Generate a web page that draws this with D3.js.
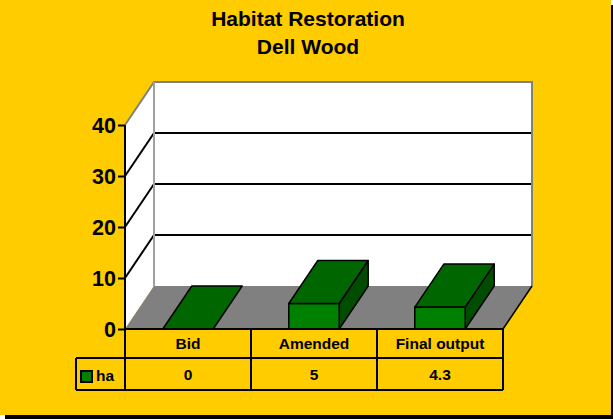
<!DOCTYPE html>
<html lang="en">
<meta charset="utf-8">
<style>
  body { margin: 0; background: #fff; }
  text { font-family: "Liberation Sans", Arial, sans-serif; font-weight: bold; fill: #000; }
</style>
<body>
<div id="my_dataviz"></div>

<script src="https://d3js.org/d3.v7.min.js"></script>
<script>

// data
var titleLines = ["Habitat Restoration", "Dell Wood"];
var categories = ["Bid", "Amended", "Final output"];
var values = [0, 5, 4.3];
var valueLabels = ["0", "5", "4.3"];
var seriesName = "ha";
var yTicks = [0, 10, 20, 30, 40];

var W = 613, H = 419;

var svg = d3.select("#my_dataviz")
  .append("svg")
    .attr("width", W)
    .attr("height", H);

// black drop shadow + yellow panel
svg.append("rect").attr("x", 5).attr("y", 5).attr("width", W - 5).attr("height", H - 5).attr("fill", "#000");
svg.append("rect").attr("x", 0).attr("y", 0).attr("width", 611).attr("height", 415).attr("fill", "#FFCC00");

// title
svg.selectAll(".title")
  .data(titleLines)
  .enter().append("text")
    .attr("x", 308)
    .attr("y", function(d, i) { return 26 + i * 28; })
    .attr("text-anchor", "middle")
    .style("font-size", "21px")
    .text(function(d) { return d; });

// scales
var x = d3.scaleBand().domain(categories).range([125, 503]);
var y = d3.scaleLinear().domain([0, 40]).range([329, 125]);
var dx = 29, dy = -43;   // depth offset
var barW = x.bandwidth() / 2.5;

var x0 = x.range()[0], x1 = x.range()[1];
var yTop = y(40), yBase = y(0);

function poly(pts) { return pts.map(function(p) { return p.join(","); }).join(" "); }

// back wall
svg.append("polygon")
  .attr("points", poly([[x0 + dx, yTop + dy], [x1 + dx, yTop + dy], [x1 + dx, yBase + dy], [x0 + dx, yBase + dy]]))
  .attr("fill", "#fff");
// side wall
svg.append("polygon")
  .attr("points", poly([[x0, yTop], [x0 + dx, yTop + dy], [x0 + dx, yBase + dy], [x0, yBase]]))
  .attr("fill", "#fff");
// floor
svg.append("polygon")
  .attr("points", poly([[x0, yBase], [x0 + dx, yBase + dy], [x1 + dx, yBase + dy], [x1, yBase]]))
  .attr("fill", "#808080");

// gridlines (side wall diagonal + back wall)
var gridTicks = yTicks.filter(function(t) { return t > 0 && t < 40; });
svg.selectAll(".gside")
  .data(gridTicks)
  .enter().append("line")
    .attr("x1", x0).attr("y1", function(d) { return y(d); })
    .attr("x2", x0 + dx).attr("y2", function(d) { return y(d) + dy; })
    .attr("stroke", "#000").attr("stroke-width", 2);
svg.selectAll(".gback")
  .data(gridTicks)
  .enter().append("line")
    .attr("x1", x0 + dx).attr("y1", function(d) { return y(d) + dy; })
    .attr("x2", x1 + dx).attr("y2", function(d) { return y(d) + dy; })
    .attr("stroke", "#000").attr("stroke-width", 2);

// gray wall edges
svg.append("polyline")
  .attr("points", poly([[x0, yTop], [x0 + dx, yTop + dy], [x1 + dx, yTop + dy], [x1 + dx, yBase + dy]]))
  .attr("fill", "none").attr("stroke", "#808080").attr("stroke-width", 2);
svg.append("line")
  .attr("x1", x0 + dx).attr("y1", yTop + dy).attr("x2", x0 + dx).attr("y2", yBase + dy)
  .attr("stroke", "#a0a0a0").attr("stroke-width", 2);
svg.append("line")
  .attr("x1", x1).attr("y1", yBase).attr("x2", x1 + dx).attr("y2", yBase + dy)
  .attr("stroke", "#000").attr("stroke-width", 1.5);

// 3D bars
var bars = svg.selectAll(".bar")
  .data(values)
  .enter().append("g");

bars.each(function(v, i) {
  var g = d3.select(this);
  var cx = x(categories[i]) + x.bandwidth() / 2;
  var bx0 = cx - barW / 2, bx1 = cx + barW / 2;
  var by = y(v);
  if (v > 0) {
    g.append("polygon")
      .attr("points", poly([[bx1, by], [bx1 + dx, by + dy], [bx1 + dx, yBase + dy], [bx1, yBase]]))
      .attr("fill", "#004C00").attr("stroke", "#000").attr("stroke-width", 1.5).attr("stroke-linejoin", "round");
    g.append("polygon")
      .attr("points", poly([[bx0, by], [bx1, by], [bx1, yBase], [bx0, yBase]]))
      .attr("fill", "#008000").attr("stroke", "#000").attr("stroke-width", 1.5);
  }
  g.append("polygon")
    .attr("points", poly([[bx0, by], [bx0 + dx, by + dy], [bx1 + dx, by + dy], [bx1, by]]))
    .attr("fill", "#006600").attr("stroke", "#000").attr("stroke-width", 1.5).attr("stroke-linejoin", "round");
});

// value axis
var yAxis = svg.append("g")
  .attr("transform", "translate(" + x0 + ",0)")
  .call(d3.axisLeft(y).tickValues(yTicks).tickSize(7).tickPadding(2).tickFormat(d3.format("d")));
yAxis.select(".domain").remove();
yAxis.selectAll(".tick line").attr("stroke", "#000").attr("stroke-width", 2);
yAxis.selectAll(".tick text")
  .style("font-size", "21.5px")
  .style("font-family", "'Liberation Sans', Arial, sans-serif")
  .style("font-weight", "bold")
  .attr("fill", "#000")
  .attr("dy", "0.36em");

// data table
var row1 = yBase, row2 = 358, row3 = 390, legendX = 76;
var tbl = svg.append("g").attr("stroke", "#000").attr("stroke-width", 2);
tbl.append("line").attr("x1", x0).attr("y1", yTop).attr("x2", x0).attr("y2", row3);
tbl.append("line").attr("x1", x0).attr("y1", row1).attr("x2", x1).attr("y2", row1);
tbl.append("line").attr("x1", legendX).attr("y1", row2).attr("x2", x1).attr("y2", row2);
tbl.append("line").attr("x1", legendX).attr("y1", row3).attr("x2", x1).attr("y2", row3);
tbl.append("line").attr("x1", legendX).attr("y1", row2).attr("x2", legendX).attr("y2", row3);
tbl.selectAll(".col")
  .data(categories)
  .enter().append("line")
    .attr("x1", function(d) { return x(d) + x.bandwidth(); })
    .attr("x2", function(d) { return x(d) + x.bandwidth(); })
    .attr("y1", row1).attr("y2", row3);

svg.selectAll(".catlab")
  .data(categories)
  .enter().append("text")
    .attr("x", function(d) { return x(d) + x.bandwidth() / 2; })
    .attr("y", (row1 + row2) / 2 + 5.5)
    .attr("text-anchor", "middle")
    .style("font-size", "15.5px")
    .text(function(d) { return d; });

svg.selectAll(".vallab")
  .data(valueLabels)
  .enter().append("text")
    .attr("x", function(d, i) { return x(categories[i]) + x.bandwidth() / 2; })
    .attr("y", (row2 + row3) / 2 + 5.5)
    .attr("text-anchor", "middle")
    .style("font-size", "15.5px")
    .text(function(d) { return d; });

// legend key
svg.append("rect")
  .attr("x", 81).attr("y", 371).attr("width", 11).attr("height", 11)
  .attr("fill", "#008000").attr("stroke", "#000").attr("stroke-width", 2);
svg.append("text")
  .attr("x", 96).attr("y", 381)
  .style("font-size", "15.5px")
  .text(seriesName);

</script>
</body>
</html>
